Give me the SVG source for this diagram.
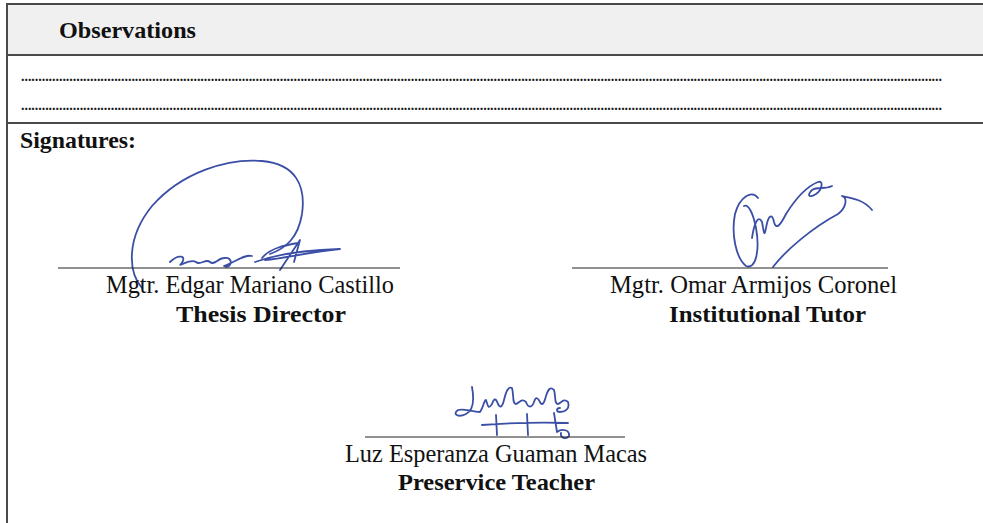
<svg xmlns="http://www.w3.org/2000/svg" width="983" height="523" viewBox="0 0 983 523">
<style>
.t{font-family:"Liberation Serif","Times New Roman",Times,serif;fill:#111}
.b{font-weight:bold}
.d{font-family:"Liberation Serif","Times New Roman",Times,serif;fill:#1a1a1a;font-weight:bold}
.rule{stroke:#4a4a4a;stroke-width:2;fill:none}
.sl{stroke:#222;stroke-width:1;fill:none}
.sig{stroke:#3b4fa6;stroke-width:1.8;fill:none;stroke-linecap:round;stroke-linejoin:round}
</style>
<rect x="0" y="0" width="983" height="523" fill="#fff"/>
<g id="header">
<rect x="7" y="4" width="976" height="51" fill="#f0f0f0"/>
<line class="rule" x1="7" y1="4" x2="983" y2="4"/>
<line class="rule" x1="7" y1="55" x2="983" y2="55"/>
<text class="t b" x="59" y="38" font-size="24" textLength="137" lengthAdjust="spacingAndGlyphs">Observations</text>
</g>
<g id="observations">
<text class="d" x="21" y="81" font-size="14" textLength="921" lengthAdjust="spacing">...........................................................................................................................................................................................................................................................................</text>
<text class="d" x="21" y="110" font-size="14" textLength="921" lengthAdjust="spacing">...........................................................................................................................................................................................................................................................................</text>
<line class="rule" x1="7" y1="123" x2="983" y2="123"/>
</g>
<line class="rule" x1="7" y1="3" x2="7" y2="523"/>
<g id="signatures-title">
<text class="t b" x="20" y="148" font-size="24" textLength="116" lengthAdjust="spacingAndGlyphs">Signatures:</text>
</g>
<g id="thesis-director">
<path class="sig" d="M142 288 C128 272 126 238 152 206 C182 172 228 158 262 161 C296 164 306 186 302 214 C298 238 286 248 270 254"/>
<path class="sig" d="M170 262 C178 254 188 255 181 264 C177 268 190 258 196 262 C200 266 206 258 210 262 C214 266 218 258 224 258 C234 256 232 270 224 266 C236 262 244 254 252 256 M262 258 C270 248 286 245 298 243 M255 262 C275 255 305 250 340 249 C310 252 285 258 265 260 M280 270 L300 240 L294 262"/>
<line class="sl" x1="58" y1="268" x2="400" y2="268"/>
<text class="t" x="106" y="293" font-size="24.5" textLength="288" lengthAdjust="spacingAndGlyphs">Mgtr. Edgar Mariano Castillo</text>
<text class="t b" x="176" y="321.5" font-size="24" textLength="170" lengthAdjust="spacingAndGlyphs">Thesis Director</text>
</g>
<g id="institutional-tutor">
<path class="sig" d="M758 198 C752 190 740 196 735 214 C731 234 736 258 746 266 C756 270 760 250 756 228 C753 212 748 204 744 206"/>
<path class="sig" d="M752 238 C754 224 758 214 762 222 C764 232 764 238 766 228 C768 216 772 212 774 222 C776 230 780 226 786 214 C796 198 808 186 818 182 C824 180 822 190 816 194 C810 198 806 196 812 190 C818 186 824 190 832 186"/>
<path class="sig" d="M773 267 C786 250 812 228 838 214 C846 208 848 198 842 196 C852 198 864 200 872 210"/>
<line class="sl" x1="572" y1="268" x2="888" y2="268"/>
<text class="t" x="610" y="293" font-size="24.5" textLength="287" lengthAdjust="spacingAndGlyphs">Mgtr. Omar Armijos Coronel</text>
<text class="t b" x="669" y="321.5" font-size="24" textLength="197" lengthAdjust="spacingAndGlyphs">Institutional Tutor</text>
</g>
<g id="preservice-teacher">
<path class="sig" d="M472 387 C474 398 474 410 466 414 C458 418 452 414 458 410 C464 408 472 412 480 412 C484 406 484 400 486 400 C488 406 488 410 492 404 C494 398 496 398 498 404 C500 408 502 408 504 400 C506 392 508 386 512 388 C514 394 512 404 516 404 C520 402 522 398 526 402 C528 408 532 408 534 402 C536 396 538 398 540 402 C542 406 544 404 546 396 C548 390 550 386 554 390 C556 396 554 404 558 404 C562 402 564 398 568 402 C570 408 566 412 560 412 C556 412 556 408 560 408"/>
<path class="sig" d="M482 425 C510 423 540 422 568 423 M496 415 L497 435 M527 414 L528 435 M554 413 L557 432 C562 428 570 430 569 436 C566 440 560 438 561 433"/>
<line class="sl" x1="365" y1="437" x2="625" y2="437"/>
<text class="t" x="345" y="462" font-size="24.5" textLength="302" lengthAdjust="spacingAndGlyphs">Luz Esperanza Guaman Macas</text>
<text class="t b" x="398" y="490" font-size="24" textLength="197" lengthAdjust="spacingAndGlyphs">Preservice Teacher</text>
</g>
</svg>
